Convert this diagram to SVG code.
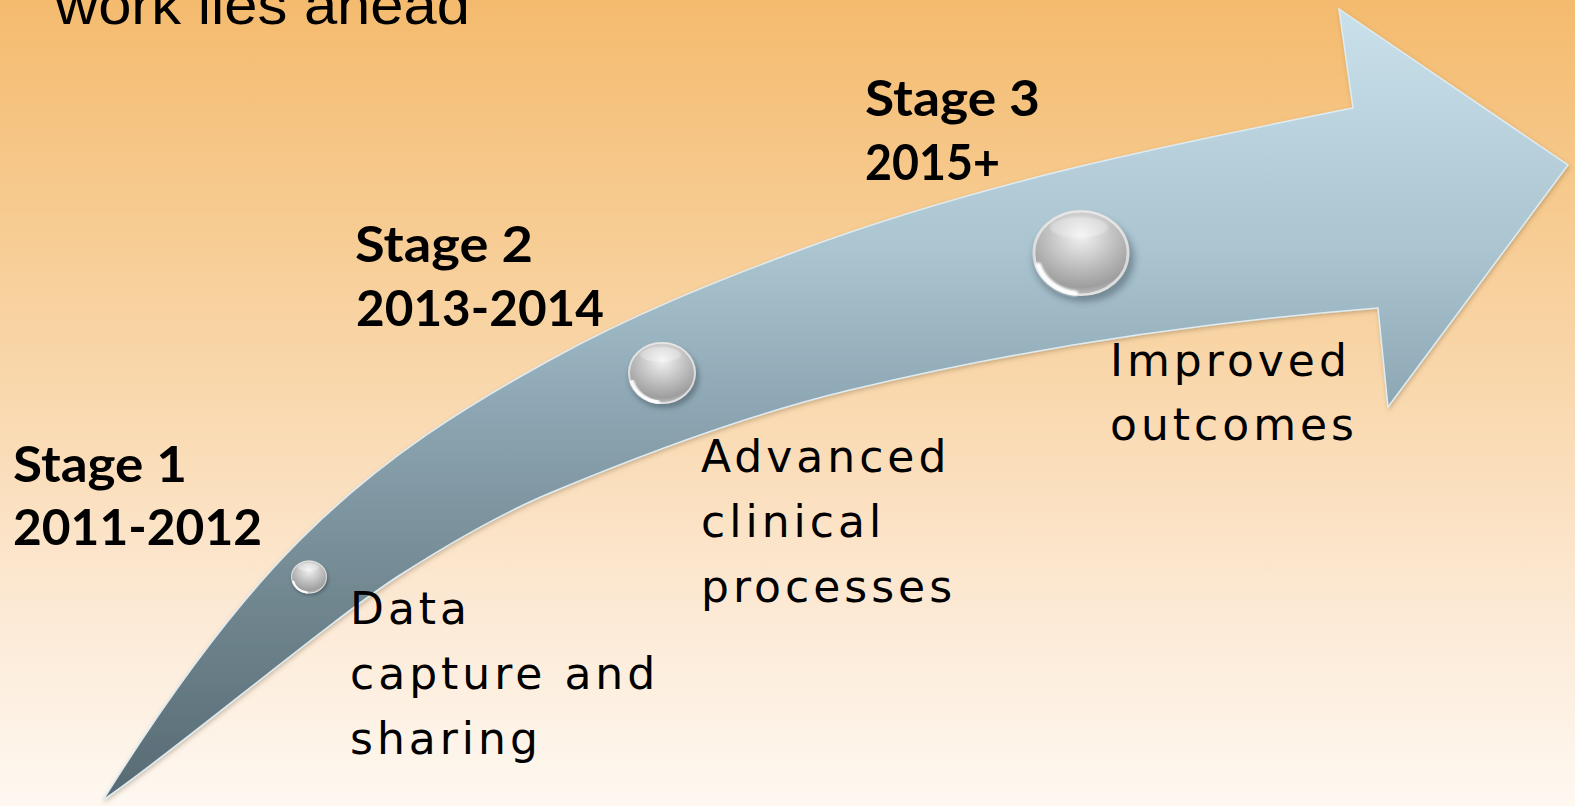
<svg xmlns="http://www.w3.org/2000/svg" xmlns:xlink="http://www.w3.org/1999/xlink" width="1575" height="806" viewBox="0 0 1575 806">
  <style>
    .title { font-family: "Liberation Sans", Arial, sans-serif; font-size: 56px; fill: #000; }
    .stage { font-family: Lato, "Liberation Sans", sans-serif; font-weight: 700; font-size: 50px; fill: #000; }
    .desc { font-family: "DejaVu Sans", "Liberation Sans", sans-serif; font-size: 44px; letter-spacing: 4px; fill: #000; }
  </style>
  <defs>
    <linearGradient id="bg" x1="0" y1="0" x2="0" y2="806" gradientUnits="userSpaceOnUse">
      <stop offset="0" stop-color="#F4BB6E"/>
      <stop offset="0.3" stop-color="#F7CD95"/>
      <stop offset="0.55" stop-color="#FADCB6"/>
      <stop offset="0.75" stop-color="#FCE9D4"/>
      <stop offset="1" stop-color="#FEF8F1"/>
    </linearGradient>
    <linearGradient id="arrowFill" x1="0" y1="0" x2="0" y2="806" gradientUnits="userSpaceOnUse">
      <stop offset="0" stop-color="#CBE2EC"/>
      <stop offset="0.31" stop-color="#AAC4D0"/>
      <stop offset="0.5" stop-color="#8EA7B4"/>
      <stop offset="0.75" stop-color="#70868F"/>
      <stop offset="1" stop-color="#566973"/>
    </linearGradient>
    <radialGradient id="sph" cx="0.5" cy="0.3" r="0.75">
      <stop offset="0" stop-color="#F2F2F2"/>
      <stop offset="0.45" stop-color="#C2C2C2"/>
      <stop offset="0.8" stop-color="#9E9E9E"/>
      <stop offset="1" stop-color="#D4D4D4"/>
    </radialGradient>
    <filter id="blur4" x="-30%" y="-30%" width="160%" height="160%">
      <feGaussianBlur stdDeviation="4"/>
    </filter>
    <filter id="blur1" x="-30%" y="-30%" width="160%" height="160%">
      <feGaussianBlur stdDeviation="1.2"/>
    </filter>
    <filter id="arrowShadow" x="-5%" y="-5%" width="110%" height="110%">
      <feDropShadow dx="1" dy="2" stdDeviation="2" flood-color="#5a4a30" flood-opacity="0.3"/>
    </filter>
    <g id="sphere">
      <ellipse cx="3" cy="7" rx="52" ry="50" fill="#2f3f48" opacity="0.4" filter="url(#blur4)"/>
      <circle r="50" fill="url(#sph)"/>
      <circle r="48.5" fill="none" stroke="#f2f2f2" stroke-width="3" opacity="0.7"/>
      <ellipse cx="-2" cy="-30" rx="30" ry="12" fill="#ffffff" opacity="0.3" filter="url(#blur1)"/>
      <path d="M -44 14 A 47 47 0 0 0 -6 47" fill="none" stroke="#ffffff" stroke-width="6" stroke-linecap="round" filter="url(#blur1)"/>
    </g>
  </defs>

  <rect x="0" y="0" width="1575" height="806" fill="url(#bg)"/>

  <g id="title">
    <text class="title" x="55" y="24" textLength="415" lengthAdjust="spacingAndGlyphs">work lies ahead</text>
  </g>

  <g id="connectors">
    <path id="arrow" filter="url(#arrowShadow)" fill="url(#arrowFill)" stroke="#dfecf2" stroke-width="1.5" stroke-linejoin="miter"
      d="M103,800 C168.7,695 234.3,605.7 300,540 C383.3,456.7 466.7,405.8 550,360 C633.3,314.2 716.7,280.8 800,250 C984.3,181.8 1168.7,144.9 1353,108 L1339,9 L1568,165 L1388,407 L1378,308 C1202,322.1 1026,347.8 850,390 C750,414 650,451 550,493 C500,514 450,543 400,575 C330,620 170,755 103,800 Z"/>
  </g>

  <g id="stage1">
    <g id="sphere1" transform="translate(309,577) scale(0.36,0.33)"><use href="#sphere"/></g>
    <text class="stage" x="13" y="482" textLength="174" lengthAdjust="spacingAndGlyphs">Stage 1</text>
    <text class="stage" x="13" y="545" textLength="249" lengthAdjust="spacingAndGlyphs">2011-2012</text>
    <text class="desc" x="350" y="624">Data</text>
    <text class="desc" x="350" y="689">capture and</text>
    <text class="desc" x="350" y="754">sharing</text>
  </g>

  <g id="stage2">
    <g id="sphere2" transform="translate(662,373) scale(0.68,0.62)"><use href="#sphere"/></g>
    <text class="stage" x="355" y="262" textLength="178" lengthAdjust="spacingAndGlyphs">Stage 2</text>
    <text class="stage" x="356" y="326" textLength="248" lengthAdjust="spacingAndGlyphs">2013-2014</text>
    <text class="desc" x="701" y="472">Advanced</text>
    <text class="desc" x="701" y="537">clinical</text>
    <text class="desc" x="701" y="602">processes</text>
  </g>

  <g id="stage3">
    <g id="sphere3" transform="translate(1081,253) scale(0.97,0.86)"><use href="#sphere"/></g>
    <text class="stage" x="865" y="116" textLength="175" lengthAdjust="spacingAndGlyphs">Stage 3</text>
    <text class="stage" x="865" y="180" textLength="135" lengthAdjust="spacingAndGlyphs">2015+</text>
    <text class="desc" x="1110" y="376">Improved</text>
    <text class="desc" x="1110" y="440">outcomes</text>
  </g>
</svg>
